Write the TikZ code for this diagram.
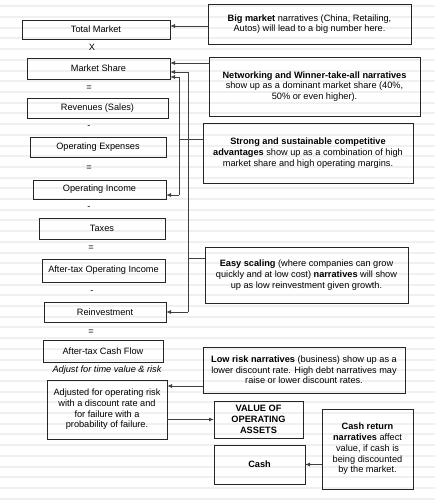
\documentclass[tikz,border=0pt]{standalone}
\usepackage{fontspec}
\setmainfont{Liberation Sans}
\usetikzlibrary{arrows.meta}
\begin{document}
\begin{tikzpicture}[x=1pt,y=-1pt,
  box/.style={draw=black!85, line width=0.9pt, inner sep=0pt, outer sep=0pt, align=center, font=\fontsize{9.2}{10.7}\selectfont},
  op/.style={font=\fontsize{9.2}{10.7}\selectfont, inner sep=0pt},
  conn/.style={draw=black!75, line width=0.9pt},
  arr/.style={conn, -{Latex[length=5pt,width=4pt]}}]
\useasboundingbox[fill=white] (0,0) rectangle (435,500);
\foreach \k in {0,...,46} \draw[black!6, line width=2pt] (0,{6.4+10.7*\k}) -- (435,{6.4+10.7*\k});

% left column
\node[box, minimum width=148, minimum height=19] (tm) at (96,29.5) {Total Market};
\node[op] (o1) at (92,47) {X};
\node[box, minimum width=143, minimum height=21] (ms) at (98.5,68.5) {Market Share};
\node[op] (o2) at (89,88) {=};
\node[box, minimum width=141, minimum height=20] (rev) at (97.5,108) {Revenues (Sales)};
\node[op] (o3) at (89,127) {-};
\node[box, minimum width=136, minimum height=20] (opex) at (98,147) {Operating Expenses};
\node[op] (o4) at (89,168) {=};
\node[box, minimum width=133, minimum height=19] (oi) at (99.5,189.5) {Operating Income};
\node[op] (o5) at (89,208) {-};
\node[box, minimum width=126, minimum height=21] (tax) at (102,228.5) {Taxes};
\node[op] (o6) at (91,248) {=};
\node[box, minimum width=123, minimum height=23] (atoi) at (103.5,270.5) {After-tax Operating Income};
\node[op] (o7) at (92,292) {-};
\node[box, minimum width=122, minimum height=20] (reinv) at (105,312) {Reinvestment};
\node[op] (o8) at (91,332) {=};
\node[box, minimum width=120, minimum height=22] (atcf) at (103,351) {After-tax Cash Flow};
\node[op, font=\fontsize{9.2}{10.7}\selectfont\itshape] (adjlbl) at (107,370) {Adjust for time value \& risk};
\node[box, minimum width=120, minimum height=59] (adj) at (107,409.5) {Adjusted for operating risk\\with a discount rate and\\for failure with a\\probability of failure.};

% right column
\node[box, minimum width=203, minimum height=40] (big) at (309.5,24) {\textbf{Big market} narratives (China, Retailing,\\Autos) will lead to a big number here.};
\node[box, minimum width=211, minimum height=59] (net) at (314.5,86.5) {\textbf{Networking and Winner-take-all narratives}\\show up as a dominant market share (40\%,\\50\% or even higher).};
\node[box, minimum width=210, minimum height=60] (strong) at (308,153) {\textbf{Strong and sustainable competitive}\\\textbf{advantages} show up as a combination of high\\market share and high operating margins.};
\node[box, minimum width=203, minimum height=56] (easy) at (306.5,275) {\textbf{Easy scaling} (where companies can grow\\quickly and at low cost) \textbf{narratives} will show\\up as low reinvestment given growth.};
\node[box, minimum width=202, minimum height=46] (low) at (304,370) {\textbf{Low risk narratives} (business) show up as a\\lower discount rate. High debt narratives may\\raise or lower discount rates.};
\node[box, minimum width=89, minimum height=37] (val) at (258.5,419.5) {\textbf{VALUE OF}\\\textbf{OPERATING}\\\textbf{ASSETS}};
\node[box, minimum width=91, minimum height=39] (cash) at (259.5,464.5) {\textbf{Cash}};
\node[box, minimum width=91, minimum height=80] (cr) at (367.5,449) {\textbf{Cash return}\\\textbf{narratives} affect\\value, if cash is\\being discounted\\by the market.};

% connectors
\draw[arr] ([yshift=-2pt]big.west) -- ([yshift=-2pt]big.west -| tm.east);
\draw[arr] ([yshift=-6pt]net.north west) -- ([yshift=-6pt]net.north west -| ms.east);

\coordinate (s1) at (179,77);
\coordinate (s2) at (179,195);
\coordinate (sj) at (179,139);
\draw[conn] (sj -| strong.west) -- (sj);
\draw[conn] (s1) -- (s2);
\draw[arr] (s1) -- (s1 -| ms.east);
\draw[arr] (s2) -- (s2 -| oi.east);

\coordinate (e1) at (188,72);
\coordinate (e2) at (188,312);
\coordinate (ej) at (188,258);
\draw[conn] (ej -| easy.west) -- (ej);
\draw[conn] (e1) -- (e2);
\draw[arr] (e1) -- (e1 -| ms.east);
\draw[arr] (e2) -- (e2 -| reinv.east);

\draw[arr] ([yshift=7pt]low.south west) -- ([yshift=7pt]low.south west -| adj.east);
\draw[arr] (val.west -| adj.east) -- (val.west);
\draw[arr] (cash.east -| cr.west) -- (cash.east);
\end{tikzpicture}
\end{document}
